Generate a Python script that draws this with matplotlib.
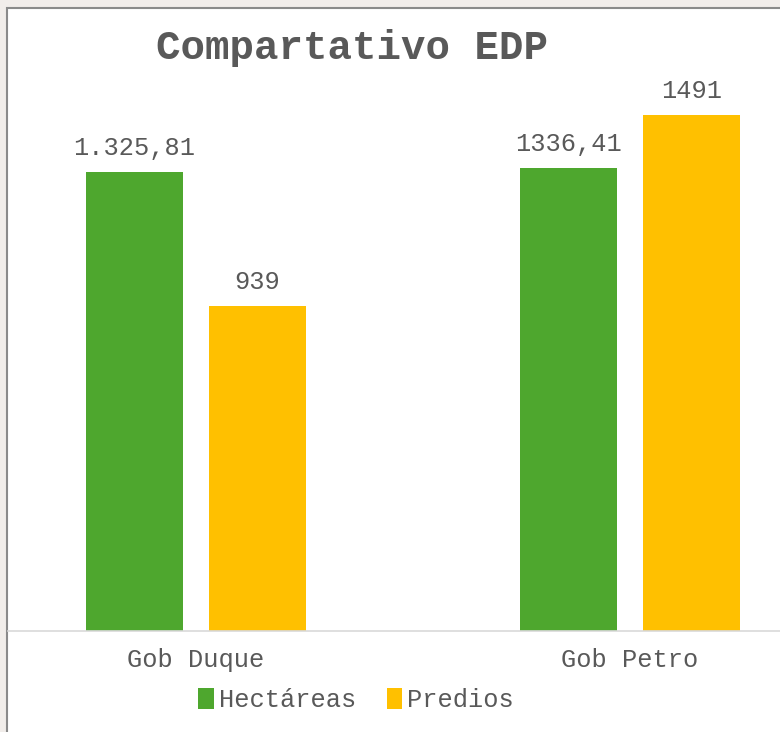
import matplotlib
matplotlib.use("Agg")
import matplotlib.pyplot as plt
from matplotlib.patches import Rectangle, Patch
import numpy as np

categories = ["Gob Duque", "Gob Petro"]
hectareas = [1325.81, 1336.41]
predios = [939, 1491]
hect_labels = ["1.325,81", "1336,41"]
pred_labels = ["939", "1491"]
series_names = ["Hectáreas", "Predios"]
title = "Compartativo EDP"

GREEN = "#4EA72E"
YELLOW = "#FFC000"
TEXT = "#595959"
FONT = "Liberation Mono"

W, H = 780, 732
fig = plt.figure(figsize=(W / 100, H / 100), dpi=100)
fig.patch.set_facecolor("#f1edea")

# white chart panel with grey border
panel = Rectangle((7 / W, -0.05), 1.1, (H - 8) / H + 0.05, transform=fig.transFigure,
                  facecolor="white", edgecolor="#8a8a8a", linewidth=1.5, zorder=-10)
fig.patches.append(panel)

base_y = 631
top_y = 100
ax = fig.add_axes([8 / W, (H - base_y) / H, (W - 8) / W, (base_y - top_y) / H])
ax.set_facecolor("none")
ax.set_zorder(5)

scale = 516 / 1491  # px per unit
ax.set_ylim(0, (base_y - top_y) / scale)
ax.set_xlim(-0.4332, 1.3456)

x = np.arange(len(categories))
bw = 97 / 434
off = 61.5 / 434
b1 = ax.bar(x - off, hectareas, bw, color=GREEN, label=series_names[0], zorder=2)
b2 = ax.bar(x + off, predios, bw, color=YELLOW, label=series_names[1], zorder=2)

ax.bar_label(b1, labels=hect_labels, padding=9, fontsize=18.3, color=TEXT, family=FONT)
ax.bar_label(b2, labels=pred_labels, padding=9, fontsize=18.3, color=TEXT, family=FONT)

ax.set_xticks(x)
ax.set_xticklabels(categories, fontsize=18.3, color=TEXT, family=FONT)
ax.tick_params(axis="x", length=0, pad=12)
ax.set_yticks([])
for s in ["top", "left", "right"]:
    ax.spines[s].set_visible(False)
ax.spines["bottom"].set_color("#d9d9d9")
ax.spines["bottom"].set_linewidth(1.2)

fig.text(352 / W, 1 - 48 / H, title, ha="center", va="center", fontsize=29.3,
         fontweight="bold", color=TEXT, family=FONT, zorder=6)

handles = [Patch(facecolor=GREEN), Patch(facecolor=YELLOW)]
leg = fig.legend(handles, series_names, loc="center", bbox_to_anchor=(356 / W, 1 - 700 / H),
                 ncol=2, frameon=False, handlelength=0.6, handleheight=0.9,
                 handletextpad=0.2, columnspacing=1.2,
                 prop={"family": FONT, "size": 18.3})
leg.set_zorder(6)
for t in leg.get_texts():
    t.set_color(TEXT)

fig.savefig("out.png", dpi=100, facecolor=fig.get_facecolor())
